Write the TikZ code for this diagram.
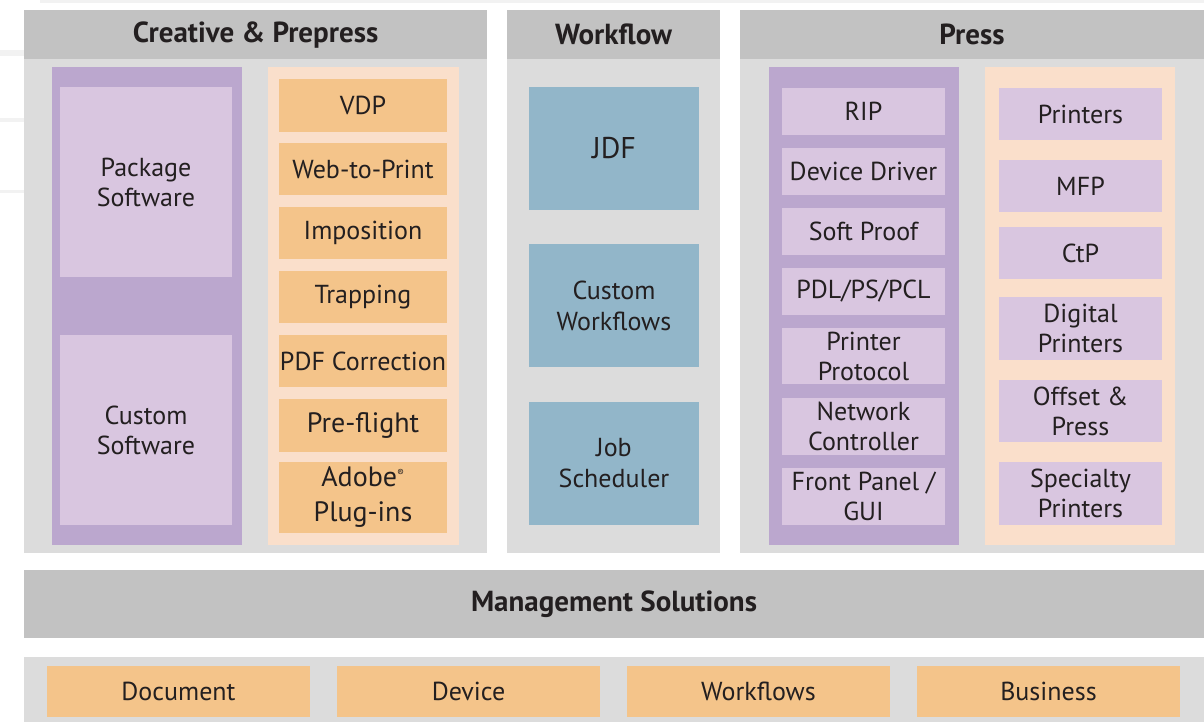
\documentclass[tikz,border=0pt]{standalone}
\usepackage{fontspec}
\setmainfont{PT Sans}
\definecolor{hdr}{HTML}{C2C2C2}
\definecolor{bodyg}{HTML}{DCDCDC}
\definecolor{purpD}{HTML}{BBA7CE}
\definecolor{purpL}{HTML}{D9C6E0}
\definecolor{peach}{HTML}{FADFCB}
\definecolor{orng}{HTML}{F4C48A}
\definecolor{blu}{HTML}{92B6C9}
\definecolor{ink}{HTML}{231F20}
\definecolor{ghost}{HTML}{F2F2F2}
\tikzset{
  base/.style={inner sep=0pt, outer sep=0pt, draw=none, text=ink, align=center},
  header/.style={base, fill=hdr, font=\fontsize{29}{33}\selectfont\bfseries},
  panel/.style={base, fill=bodyg},
  outerP/.style={base, fill=purpD},
  outerO/.style={base, fill=peach},
  itemP/.style={base, fill=purpL, font=\fontsize{26}{30}\selectfont},
  itemO/.style={base, fill=orng, font=\fontsize{26}{30}\selectfont},
  itemOL/.style={base, fill=orng, font=\fontsize{28}{35}\selectfont},
  itemB/.style={base, fill=blu, font=\fontsize{26}{31}\selectfont},
}
% \bx{style}{name}{x1}{y1}{x2}{y2}{text}
\newcommand\bx[7]{%
  \pgfmathsetmacro\bxcx{(#3+#5)/2}%
  \pgfmathsetmacro\bxcy{(#4+#6)/2}%
  \pgfmathsetmacro\bxw{#5-#3}%
  \pgfmathsetmacro\bxh{#6-#4}%
  \node[#1, anchor=center, minimum width=\bxw pt, minimum height=\bxh pt] (#2) at (\bxcx,\bxcy) {#7};}
\begin{document}
\begin{tikzpicture}[x=1pt,y=-1pt]
\useasboundingbox (0,0) rectangle (1204,722);
% faint background traces
\fill[ghost] (0,50) rectangle (24,56);
\fill[ghost] (0,118) rectangle (24,122);
\fill[ghost] (0,190) rectangle (24,193);
\fill[ghost] (40,0) rectangle (1204,3);
% Creative & Prepress
\bx{header}{hcp}{24}{12}{487}{59}{Creative \& Prepress}
\fill[hdr] (24,10) rectangle (487,12);
\bx{panel}{pcp}{24}{59}{487}{553}{}
\bx{outerP}{cpL}{52}{67}{242}{545}{}
\bx{outerO}{cpR}{268}{67}{459}{545}{}
\bx{itemP}{pkg}{60}{87}{232}{277}{Package\\Software}
\bx{itemP}{cus}{60}{335}{232}{525}{Custom\\Software}
\bx{itemO}{vdp}{279}{79}{447}{132}{VDP}
\bx{itemO}{w2p}{279}{143}{447}{195}{Web-to-Print}
\bx{itemO}{imp}{279}{207}{447}{259}{Imposition}
\bx{itemO}{trp}{279}{271}{447}{323}{Trapping}
\bx{itemO}{pdf}{279}{335}{447}{387}{PDF Correction}
\bx{itemOL}{pre}{279}{399}{447}{452}{Pre-flight}
\bx{itemOL}{ado}{279}{462}{447}{533}{Adobe\textsuperscript{\raisebox{0.1ex}{\fontsize{10}{10}\selectfont\textregistered}}\\Plug-ins}
% Workflow
\bx{header}{hwf}{507}{10}{720}{59}{Workflow}
\bx{panel}{pwf}{507}{59}{720}{553}{}
\bx{itemB}{jdf}{529}{87}{699}{210}{\fontsize{30}{34}\selectfont JDF}
\bx{itemB}{cwf}{529}{244}{699}{367}{Custom\\Workflows}
\bx{itemB}{job}{529}{402}{699}{525}{Job\\Scheduler}
% Press
\bx{header}{hpr}{740}{10}{1204}{59}{Press}
\bx{panel}{ppr}{740}{59}{1204}{553}{}
\bx{outerP}{prL}{769}{67}{959}{545}{}
\bx{outerO}{prR}{985}{67}{1175}{545}{}
\bx{itemP}{rip}{782}{88}{945}{135}{RIP}
\bx{itemP}{drv}{782}{148}{945}{195}{Device Driver}
\bx{itemP}{sfp}{782}{208}{945}{255}{Soft Proof}
\bx{itemP}{pdl}{782}{268}{945}{315}{PDL/PS/PCL}
\bx{itemP}{ppc}{782}{328}{945}{384}{Printer\\Protocol}
\bx{itemP}{net}{782}{398}{945}{455}{Network\\Controller}
\bx{itemP}{gui}{782}{468}{945}{525}{Front Panel /\\GUI}
\bx{itemP}{prn}{999}{88}{1162}{140}{Printers}
\bx{itemP}{mfp}{999}{160}{1162}{212}{MFP}
\bx{itemP}{ctp}{999}{227}{1162}{279}{CtP}
\bx{itemP}{dig}{999}{297}{1162}{360}{Digital\\Printers}
\bx{itemP}{off}{999}{380}{1162}{442}{Offset \&\\Press}
\bx{itemP}{spc}{999}{462}{1162}{525}{Specialty\\Printers}
% Management
\bx{header}{mgt}{24}{570}{1204}{638}{Management Solutions}
\bx{panel}{mst}{24}{657}{1204}{722}{}
\bx{itemO}{doc}{47}{666}{310}{717}{Document}
\bx{itemO}{dev}{337}{666}{600}{717}{Device}
\bx{itemO}{wfs}{627}{666}{890}{717}{Workflows}
\bx{itemO}{bus}{917}{666}{1180}{717}{Business}
\end{tikzpicture}
\end{document}
